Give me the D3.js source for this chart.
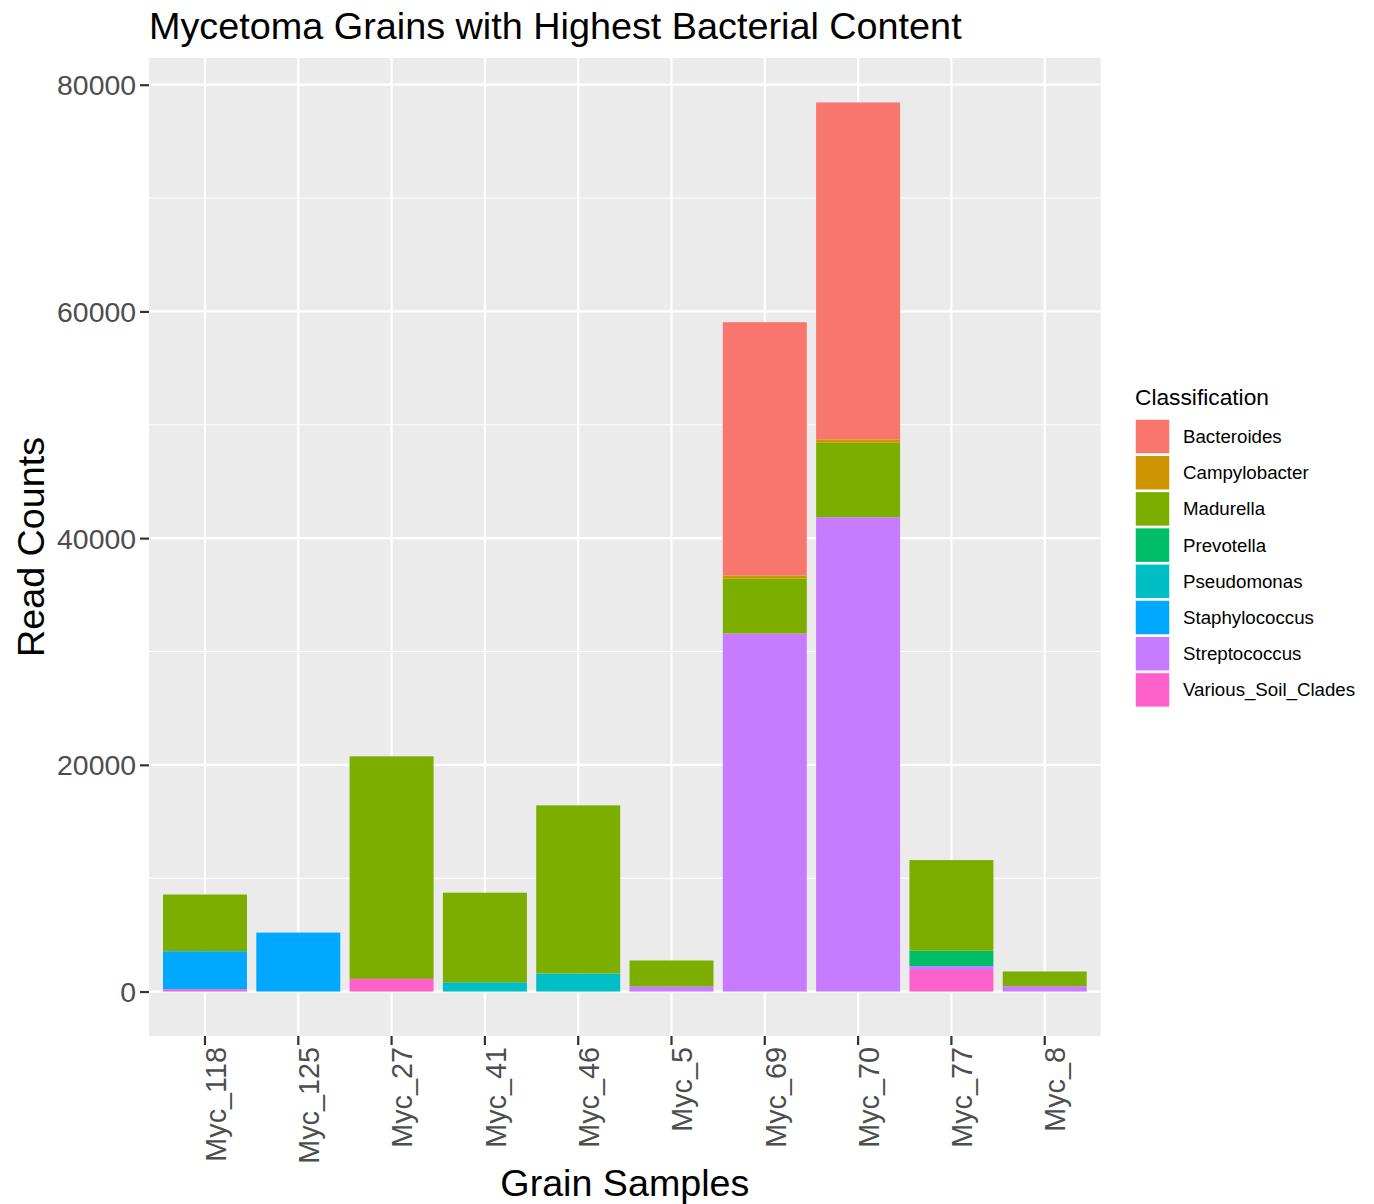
<!DOCTYPE html>
<html><head><meta charset="utf-8">
<script src="https://cdn.jsdelivr.net/npm/d3@7"></script>
<style>body{margin:0;background:#fff;} text{font-family:"Liberation Sans",Arial,sans-serif;}</style>
</head><body>
<svg id="c" width="1374" height="1204"></svg>
<script>
const samples = ["Myc_118","Myc_125","Myc_27","Myc_41","Myc_46","Myc_5","Myc_69","Myc_70","Myc_77","Myc_8"];
const classes = ["Bacteroides","Campylobacter","Madurella","Prevotella","Pseudomonas","Staphylococcus","Streptococcus","Various_Soil_Clades"];
const colors = ["#F8766D","#CD9600","#7CAE00","#00BE67","#00BFC4","#00A9FF","#C77CFF","#FF61CC"];
const Bacteroides        = [0,0,0,0,0,0,22340,29720,0,0];
const Campylobacter      = [0,0,0,0,0,0,265,300,0,0];
const Madurella          = [5000,0,19630,7900,14834,2290,4857,6561,8000,1300];
const Prevotella         = [0,0,0,0,0,0,0,0,1350,0];
const Pseudomonas        = [0,0,0,820,1590,0,0,0,0,0];
const Staphylococcus     = [3360,5200,0,0,0,0,0,0,0,0];
const Streptococcus      = [0,0,0,0,0,450,31585,41854,350,470];
const Various_Soil_Clades= [200,0,1120,0,0,0,0,0,1900,0];
const yTicks = [0,20000,40000,60000,80000];
const yMinor = [10000,30000,50000,70000];

const series = {Bacteroides,Campylobacter,Madurella,Prevotella,Pseudomonas,Staphylococcus,Streptococcus,Various_Soil_Clades};
const rows = samples.map((s,i)=>{const r={sample:s}; classes.forEach(c=>r[c]=series[c][i]); return r;});
// ggplot stacks first level on top -> bottom-up order is reversed
const stackOrder = classes.slice().reverse();
const stacked = d3.stack().keys(stackOrder)(rows);
const color = d3.scaleOrdinal().domain(classes).range(colors);

const svg = d3.select("#c");
const L=149, R=1100.7, T=58, B=1036;
const maxTotal = d3.max(rows, r=>d3.sum(classes, c=>r[c]));
const exp = maxTotal*0.05;
const y = d3.scaleLinear().domain([-exp, maxTotal+exp]).range([B,T]);
const u = (R-L)/10.2;
const xb = d3.scaleBand().domain(samples).range([L+0.1*u, R-0.1*u]).paddingInner(0).paddingOuter(0);
const bw = xb.bandwidth();

function fit(sel, w){ const n=sel.node(); const cur=parseFloat(sel.attr("font-size")); const len=n.getComputedTextLength(); sel.attr("font-size", cur*w/len); }

svg.append("rect").attr("x",L).attr("y",T).attr("width",R-L).attr("height",B-T).attr("fill","#EBEBEB");
svg.append("g").selectAll("line").data(yMinor).join("line")
  .attr("x1",L).attr("x2",R).attr("y1",d=>y(d)).attr("y2",d=>y(d)).attr("stroke","#fff").attr("stroke-width",1.1);
svg.append("g").selectAll("line").data(yTicks).join("line")
  .attr("x1",L).attr("x2",R).attr("y1",d=>y(d)).attr("y2",d=>y(d)).attr("stroke","#fff").attr("stroke-width",2.2);
svg.append("g").selectAll("line").data(samples).join("line")
  .attr("y1",T).attr("y2",B).attr("x1",d=>xb(d)+bw/2).attr("x2",d=>xb(d)+bw/2).attr("stroke","#fff").attr("stroke-width",2.2);

svg.append("g").selectAll("g").data(stacked).join("g").attr("fill",d=>color(d.key))
  .selectAll("rect").data(d=>d).join("rect")
  .attr("x",d=>xb(d.data.sample)+bw*0.05).attr("width",bw*0.9)
  .attr("y",d=>y(d[1])).attr("height",d=>Math.max(0,y(d[0])-y(d[1])));

// y axis
const ya = svg.append("g").attr("transform",`translate(${L},0)`)
  .call(d3.axisLeft(y).tickValues(yTicks).tickSize(9).tickPadding(4).tickFormat(d3.format("d")));
ya.select(".domain").remove();
ya.selectAll(".tick line").attr("stroke","#333").attr("stroke-width",2.2);
ya.selectAll(".tick text").attr("font-size",28.4).attr("fill","#4D4D4D").attr("font-family","Liberation Sans, Arial, sans-serif").attr("dy","0.35em");

// x axis
const xa = svg.append("g").attr("transform",`translate(0,${B})`)
  .call(d3.axisBottom(xb).tickSize(9).tickPadding(0));
xa.select(".domain").remove();
xa.selectAll(".tick line").attr("stroke","#333").attr("stroke-width",2.2);
xa.selectAll(".tick text").attr("font-size",28.8).attr("fill","#4D4D4D").attr("font-family","Liberation Sans, Arial, sans-serif")
  .attr("transform","rotate(-90)").attr("text-anchor","end").attr("x",-11).attr("y",0).attr("dy","0.72em").attr("dx",0);

// titles
const t = svg.append("text").attr("x",149).attr("y",39).attr("font-size",35).attr("fill","#000").text("Mycetoma Grains with Highest Bacterial Content");
fit(t, 813);
const xt = svg.append("text").attr("x",(L+R)/2).attr("y",1196).attr("text-anchor","middle").attr("font-size",37.7).text("Grain Samples");
fit(xt, 249);
const yt = svg.append("text").attr("transform",`translate(44,${(T+B)/2}) rotate(-90)`).attr("text-anchor","middle").attr("font-size",37.7).text("Read Counts");
fit(yt, 220);

// legend
const lg = svg.append("g");
const lt = lg.append("text").attr("x",1135).attr("y",405).attr("font-size",22.8).text("Classification");
fit(lt, 134);
const key = lg.selectAll("g.k").data(classes).join("g").attr("class","k")
  .attr("transform",(d,i)=>`translate(1135,${419+i*36.2})`);
key.append("rect").attr("width",35).attr("height",35).attr("fill",d=>color(d)).attr("stroke","#fff").attr("stroke-width",1.5);
key.append("text").attr("x",48).attr("y",17.5).attr("dy","0.35em").attr("font-size",18.7).attr("fill","#000").text(d=>d);
</script>
</body></html>
